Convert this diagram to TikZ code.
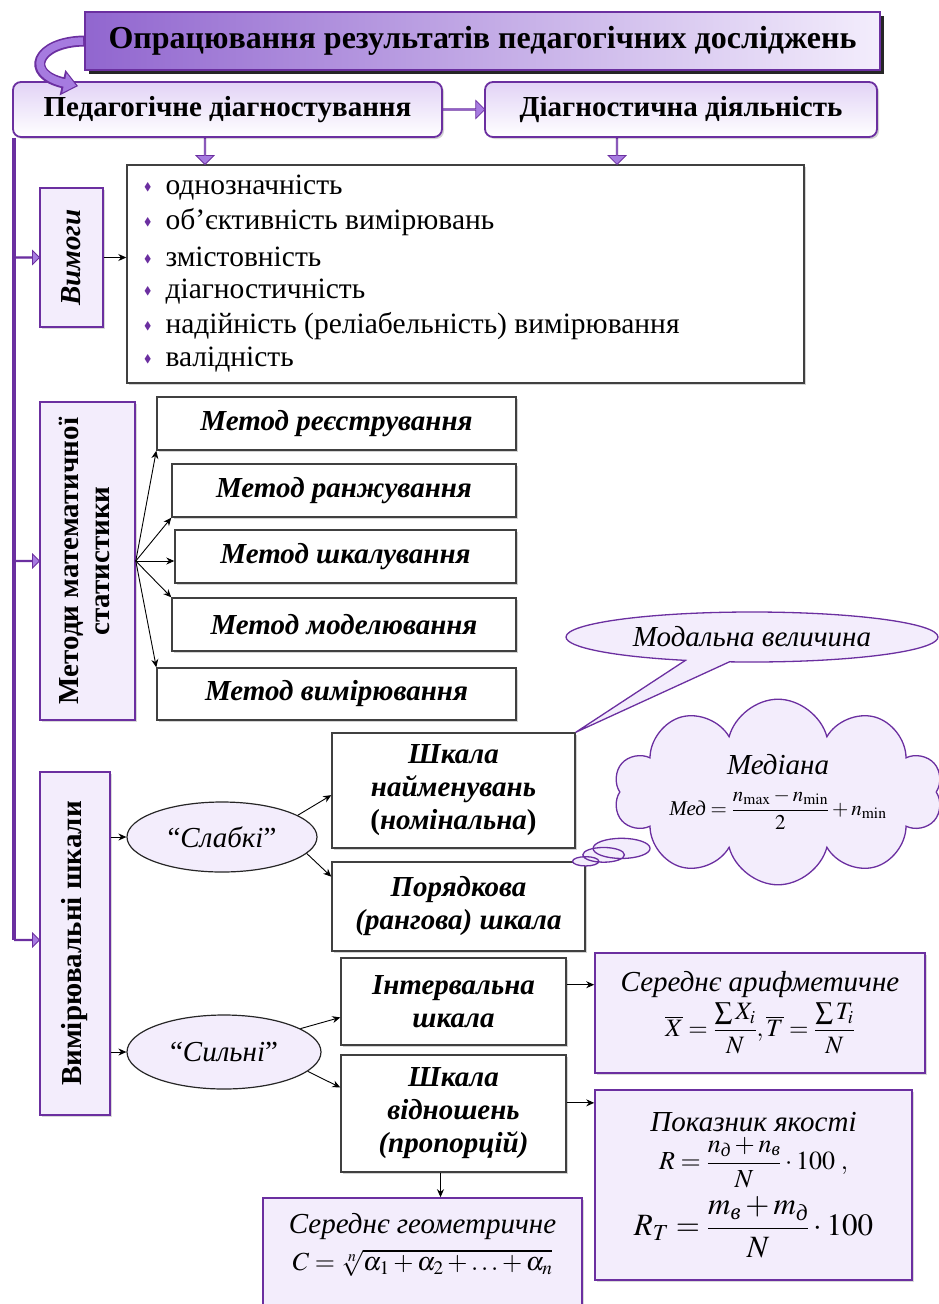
\documentclass[tikz,border=0pt]{standalone}
\usepackage{amsmath}
\usepackage{amssymb}
\usepackage{mathptmx}
\usepackage{graphicx}
\usepackage{fontspec}
\setmainfont{Liberation Serif}
\usetikzlibrary{shapes.geometric,shapes.arrows,shapes.callouts,shapes.symbols,shadows,arrows.meta,calc}
\definecolor{dp}{HTML}{6B2FA0}
\definecolor{mp}{HTML}{A67BE0}
\definecolor{lav}{HTML}{F3EDFC}
\definecolor{lavd}{HTML}{E2D3F6}
\definecolor{tl}{HTML}{9166CF}
\definecolor{tr}{HTML}{F3EDFC}
\newcommand{\bul}{\textcolor{dp}{\raisebox{4pt}{\fontsize{11}{11}\selectfont$\blacklozenge$}}}
\begin{document}
\begin{tikzpicture}[x=1pt,y=-1pt,
  titlebox/.style={draw=dp,line width=2pt,left color=tl,right color=tr,
    drop shadow={shadow xshift=4pt,shadow yshift=-4pt,opacity=.85,fill=black},
    font=\fontsize{32}{36}\selectfont\bfseries},
  rbox/.style={draw=dp,line width=1.8pt,rounded corners=8pt,top color=lavd,bottom color=white,
    drop shadow={shadow xshift=2pt,shadow yshift=-2pt,opacity=.35},
    font=\fontsize{29}{33}\selectfont\bfseries},
  lbox/.style={draw=dp,line width=1.6pt,fill=lav,
    drop shadow={shadow xshift=2pt,shadow yshift=-2pt,opacity=.3}},
  wbox/.style={draw=black!75,line width=1.4pt,fill=white,
    drop shadow={shadow xshift=2pt,shadow yshift=-2pt,opacity=.35}},
  mtext/.style={font=\fontsize{29}{33}\selectfont\bfseries\itshape},
  stext/.style={font=\fontsize{29}{33}\selectfont\bfseries\itshape,align=center},
  ftext/.style={font=\fontsize{29}{33}\selectfont,align=center},
  ell/.style={ellipse,draw=black!85,line width=1.2pt,fill=lav,inner sep=0pt,
    font=\fontsize{29}{33}\selectfont},
  itm/.style={anchor=west,inner sep=0pt,font=\fontsize{29.5}{33}\selectfont},
  sarr/.style={-{Stealth[length=8pt,width=7pt]},line width=0.9pt,black},
  barrow/.style={single arrow,draw=dp,fill=mp,line width=.8pt,inner sep=0pt,
    minimum width=18pt,single arrow head extend=5pt},
  tarrow/.style={single arrow,draw=dp,fill=mp,line width=.8pt,inner sep=0pt,
    minimum width=14pt,single arrow head extend=4pt,minimum height=25pt},
  trunk/.style={draw=dp,line width=3.5pt}
]
\useasboundingbox (0,0) rectangle (938,1304);

% top level
\node[titlebox,minimum width=795pt,minimum height=58pt] (title) at (482.5,41)
  {Опрацювання результатів педагогічних досліджень};
\node[rbox,minimum width=429pt,minimum height=55pt] (ped) at (227.5,109.5) {Педагогічне діагностування};
\node[rbox,minimum width=392pt,minimum height=55pt] (diag) at (681,109.5) {Діагностична діяльність};

% curved arrow from title to ped
\draw[line width=11pt,dp,-{Triangle[length=16pt,width=25pt]}]
  (title.west) .. controls (36,42) and (24,74) .. ($(ped.north west)+(66pt,-5pt)$);
\draw[line width=7.5pt,mp,shorten >=2pt,shorten <=1pt,-{Triangle[length=12pt,width=19pt]}]
  (title.west) .. controls (36,42) and (24,74) .. ($(ped.north west)+(66pt,-5pt)$);

\node[barrow,minimum height=42pt] (a1) at ($(ped.east)!.5!(diag.west)$) {};

% requirements
\node[wbox,minimum width=677pt,minimum height=218pt] (list) at (465.5,274) {};
\node[barrow,shape border rotate=270,minimum height=26pt] (a2) at ($(ped.south -| 205,0)!.5!(list.north -| 205,0)$) {};
\node[barrow,shape border rotate=270,minimum height=26pt] (a3) at ($(diag.south -| 617,0)!.5!(list.north -| 617,0)$) {};
\foreach \t [count=\i] in {однозначність,об’єктивність вимірювань,змістовність,діагностичність,надійність (реліабельність) вимірювання,валідність}
  \node[itm] (it\i) at (144,{153.6+34.4*\i}) {\bul\hspace{14pt}\t};

\node[lbox,minimum width=63pt,minimum height=139pt] (vym) at (71.5,257.5)
  {\rotatebox{90}{\fontsize{29}{32}\selectfont\bfseries\itshape Вимоги}};
\draw[sarr] (vym.east) -- (vym.east -| list.west);

% statistics methods
\node[lbox,minimum width=95pt,minimum height=318pt] (met) at (87.5,561)
  {\rotatebox{90}{\fontsize{29}{31}\selectfont\bfseries\begin{tabular}{@{}c@{}}Методи математичної\\ статистики\end{tabular}}};
\node[wbox,mtext,minimum width=359pt,minimum height=53pt] (m1) at (336.5,423.5) {Метод реєстрування};
\node[wbox,mtext,minimum width=344pt,minimum height=53pt] (m2) at (344,490.5) {Метод ранжування};
\node[wbox,mtext,minimum width=341pt,minimum height=53pt] (m3) at (345.5,556.5) {Метод шкалування};
\node[wbox,mtext,minimum width=344pt,minimum height=53pt] (m4) at (344,624.5) {Метод моделювання};
\node[wbox,mtext,minimum width=359pt,minimum height=52pt] (m5) at (336.5,694) {Метод вимірювання};
\draw[sarr] (met.east) -- (m1.south west);
\draw[sarr] (met.east) -- (m2.south west);
\draw[sarr] (met.east) -- (met.east -| m3.west);
\draw[sarr] (met.east) -- (m4.north west);
\draw[sarr] (met.east) -- (m5.north west);

% measurement scales
\node[lbox,minimum width=70pt,minimum height=343pt] (vmr) at (75,943.5)
  {\rotatebox{90}{\fontsize{29}{32}\selectfont\bfseries Вимірювальні шкали}};

% trunk
\coordinate (tt) at ([xshift=2pt]ped.south west);
\coordinate (tb) at (tt |- 0,940);
\draw[trunk] (tt) -- (tb);
\node[tarrow] (t1) at ($(tt |- vym.west)!.5!(vym.west)$) {};
\node[tarrow] (t2) at ($(tt |- met.west)!.5!(met.west)$) {};
\node[tarrow] (t3) at ($(tb)!.5!(tb -| vmr.west)$) {};

\node[ell,minimum width=190pt,minimum height=70pt] (sl) at (222,837) {“\textit{Слабкі}”};
\node[ell,minimum width=194pt,minimum height=74pt] (si) at (224,1052) {“\textit{Сильні}”};
\draw[sarr] (vmr.east |- sl.west) -- (sl.west);
\draw[sarr] (vmr.east |- si.west) -- (si.west);

\node[wbox,stext,minimum width=243pt,minimum height=115pt] (sh1) at (453.5,790.5)
  {Шкала\\найменувань\\\textup{(}номінальна\textup{)}};
\node[wbox,stext,minimum width=253pt,minimum height=89pt] (por) at (458.5,906.5)
  {Порядкова\\(рангова) шкала};
\node[wbox,stext,minimum width=225pt,minimum height=87pt] (int) at (453.5,1001.5)
  {Інтервальна\\шкала};
\node[wbox,stext,minimum width=225pt,minimum height=117pt] (vid) at (453.5,1113.5)
  {Шкала\\відношень\\(пропорцій)};

\draw[sarr] (sl.16) -- ($(sh1.north west)!.54!(sh1.south west)$);
\draw[sarr] (sl.-11) -- ($(por.north west)!.17!(por.south west)$);
\draw[sarr] (si.17) -- ($(int.north west)!.68!(int.south west)$);
\draw[sarr] (si.-13) -- ($(vid.north west)!.28!(vid.south west)$);

% formula boxes
\node[lbox,ftext,minimum width=330pt,minimum height=120pt] (ar) at (760,1013)
  {\textit{Середнє арифметичне}\\[4pt]
   \fontsize{25}{29}\selectfont$\displaystyle \overline{X}=\frac{\textstyle\sum X_i}{N},\overline{T}=\frac{\textstyle\sum T_i}{N}$};
\node[lbox,ftext,minimum width=317pt,minimum height=190pt] (yak) at (753.5,1185)
  {\textit{Показник якості}\\[4pt]
   \fontsize{26}{30}\selectfont$\displaystyle R=\frac{n_{\textit{д}}+n_{\textit{в}}}{N}\cdot 100\;,$\\[8pt]
   \fontsize{31}{34}\selectfont$\displaystyle R_T=\frac{m_{\textit{в}}+m_{\textit{д}}}{N}\cdot 100$};
\node[lbox,ftext,minimum width=319pt,minimum height=112pt] (geo) at (422.5,1254)
  {\textit{Середнє геометричне}\\[4pt]
   \fontsize{26}{30}\selectfont$C=\sqrt[n]{\alpha_1+\alpha_2+\ldots+\alpha_n}$\\[-18pt]\strut};

\coordinate (ia) at ($(int.north east)!.31!(int.south east)$);
\draw[sarr] (ia) -- (ia -| ar.west);
\coordinate (va) at ($(vid.north east)!.41!(vid.south east)$);
\draw[sarr] (va) -- (va -| yak.west);
\coordinate (vg) at ($(vid.south)+(-13pt,0)$);
\draw[sarr] (vg) -- (vg |- geo.north);

% callouts
\node[ellipse callout,draw=dp,line width=1.3pt,fill=lav,minimum width=372pt,minimum height=50pt,
  callout absolute pointer={(sh1.north east)},callout pointer arc=14,
  font=\fontsize{29}{33}\selectfont\itshape] (modal) at (752,637) {Модальна величина};
\node[cloud callout,draw=dp,line width=1.3pt,fill=lav,cloud puffs=10,cloud ignores aspect,
  minimum width=322pt,minimum height=138pt,
  callout absolute pointer={(por.north east)},callout pointer segments=3,
  callout pointer start size=.22 of callout,callout pointer end size=.08 of callout,align=center,
  font=\fontsize{29}{33}\selectfont] (cl) at (778,792)
  {\textit{Медіана}\\[8pt]
   \fontsize{21}{24}\selectfont$\textit{Мед}=\dfrac{n_{\max}-n_{\min}}{2}+n_{\min}$};
\end{tikzpicture}
\end{document}
